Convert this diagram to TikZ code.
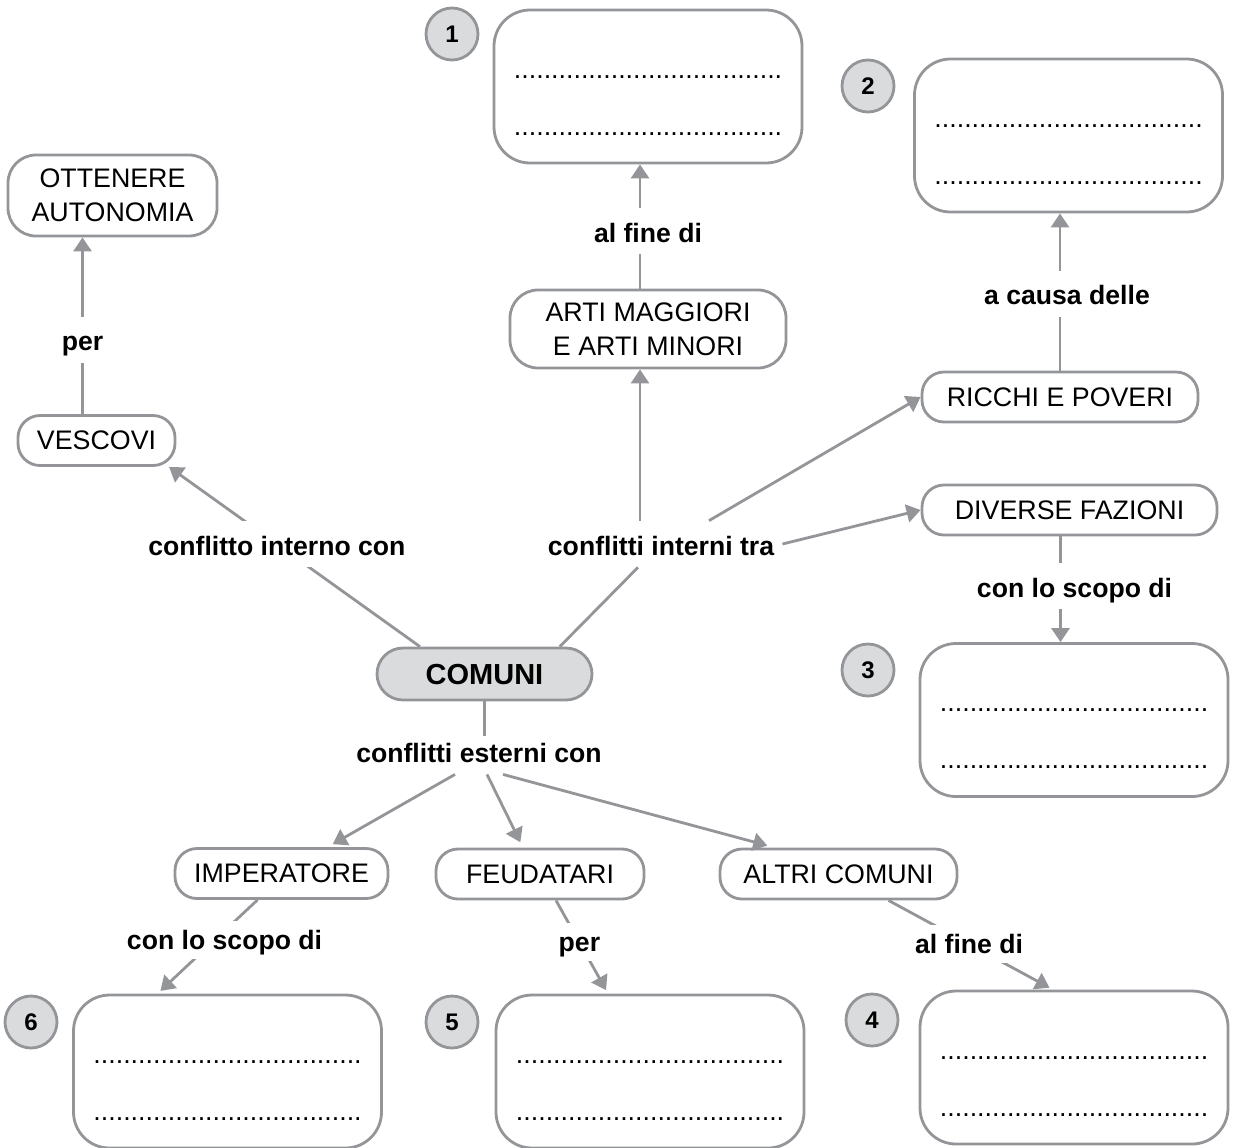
\documentclass[tikz,border=0pt]{standalone}
\usepackage{fontspec}
\setmainfont{Liberation Sans}
\usetikzlibrary{arrows.meta}

\definecolor{grigio}{RGB}{147,149,152}
\definecolor{grigiochiaro}{RGB}{218,219,220}

\tikzstyle{concetto}=[rectangle,
    rounded corners=11pt,
    draw=grigio,
    line width=1.4pt,
    minimum height=25pt,
    inner xsep=6pt,
    align=center,
    font=\fontsize{13.4}{17}\selectfont]
\tikzstyle{risposta}=[rectangle,
    rounded corners=18pt,
    draw=grigio,
    line width=1.4pt,
    minimum width=154pt,
    minimum height=76.5pt,
    align=center,
    font=\fontsize{13.4}{16}\selectfont]
\tikzstyle{numero}=[circle,
    draw=grigio,
    fill=grigiochiaro,
    line width=1.4pt,
    minimum size=26pt,
    inner sep=0pt,
    font=\fontsize{12}{14}\selectfont\bfseries]
\tikzstyle{etichetta}=[fill=white,
    inner xsep=4pt,
    inner ysep=0pt,
    text height=17pt,
    text depth=6pt,
    font=\fontsize{13.3}{16}\selectfont\bfseries]
\tikzstyle{etichettabassa}=[etichetta,
    text height=14pt,
    text depth=5pt]
\tikzstyle{snodo}=[inner xsep=4pt,
    inner ysep=3pt,
    text height=10pt,
    text depth=3pt,
    font=\fontsize{13.3}{16}\selectfont\bfseries]
\tikzstyle{linea}=[draw=grigio, line width=1.4pt]
\tikzstyle{freccia}=[linea, -{Triangle[width=9pt,length=7pt]}]

\newcommand{\puntini}{....................................}
\newcommand{\righe}{\rule{0pt}{20pt}\puntini\\[12.5pt]\puntini}

\begin{document}
\begin{tikzpicture}[x=0.5pt, y=-0.5pt]
    \useasboundingbox (0,0) rectangle (1235,1147);

    % caselle da completare
    \node[risposta] (box1) at (648,86.5) {\righe};
    \node[risposta] (box2) at (1068.5,135.5) {\righe};
    \node[risposta] (box3) at (1074,720) {\righe};
    \node[risposta] (box4) at (1074,1067.5) {\righe};
    \node[risposta] (box5) at (650,1071.5) {\righe};
    \node[risposta] (box6) at (227.5,1071.5) {\righe};
    \node[numero] (n1) at (452,34) {1};
    \node[numero] (n2) at (868,86) {2};
    \node[numero] (n3) at (868,670) {3};
    \node[numero] (n4) at (872,1020) {4};
    \node[numero] (n5) at (452,1022) {5};
    \node[numero] (n6) at (31,1022) {6};

    % concetti
    \node[concetto, fill=grigiochiaro, minimum width=107.5pt, minimum height=26pt,
        rounded corners=13pt, font=\fontsize{14.5}{17}\selectfont\bfseries] (comuni) at (484.5,674) {COMUNI};
    \node[concetto, minimum width=104.5pt, minimum height=40.5pt, rounded corners=14pt] (autonomia) at (112.5,195.5) {OTTENERE\\AUTONOMIA};
    \node[concetto, minimum width=78.5pt] (vescovi) at (96.5,440.5) {VESCOVI};
    \node[concetto, minimum width=138pt, minimum height=39pt, rounded corners=14pt] (arti) at (648,329) {ARTI MAGGIORI\\E ARTI MINORI};
    \node[concetto, minimum width=138pt] (ricchi) at (1060,397) {RICCHI E POVERI};
    \node[concetto, minimum width=147.5pt] (fazioni) at (1069.5,510) {DIVERSE FAZIONI};
    \node[concetto, minimum width=106.5pt] (imperatore) at (281.5,873.5) {IMPERATORE};
    \node[concetto, minimum width=104pt] (feudatari) at (540,874) {FEUDATARI};
    \node[concetto, minimum width=118.5pt] (altri) at (838.5,874) {ALTRI COMUNI};

    % snodi
    \node[etichetta, fill=none] (interni) at (661,544) {conflitti interni tra};
    \node[snodo] (esterni) at (479,755) {conflitti esterni con};

    % conflitti interni
    \draw[freccia] ([xshift=-7pt]vescovi.north) -- node[etichetta, pos=0.42]{per} ([xshift=-15pt]autonomia.south);
    \draw[freccia] (comuni.157) -- node[etichetta, pos=0.57]{conflitto interno con} (vescovi.-20);
    \draw[linea] (comuni.20) -- (interni);
    \coordinate (artix) at ([xshift=-4pt]arti.south);
    \coordinate (artitop) at ([xshift=-4pt]arti.north);
    \draw[freccia] (interni.north -| artix) -- (artix);
    \draw[freccia] ([xshift=24pt]interni.north) -- (ricchi.west);
    \draw[freccia] (interni.east) -- (fazioni.west);
    \draw[freccia] (artitop) -- node[etichetta, pos=0.46, xshift=4pt]{al fine di} (artitop |- box1.south);
    \draw[freccia] (ricchi.north) -- node[etichetta, pos=0.49, xshift=3.5pt]{a causa delle} (ricchi.north |- box2.south);
    \coordinate (fazionix) at ([xshift=-4.5pt]fazioni.south);
    \draw[freccia] (fazionix) -- node[etichetta, pos=0.47, xshift=7pt]{con lo scopo di} (fazionix |- box3.north);

    % conflitti esterni
    \draw[linea] (comuni.south) -- (comuni.south |- esterni.north);
    \draw[freccia, shorten >=3pt] ([xshift=-12pt]esterni.south) -- ([xshift=23pt]imperatore.north);
    \draw[freccia, shorten >=3pt] ([xshift=4pt]esterni.south) -- ([xshift=-8.5pt]feudatari.north);
    \draw[freccia, shorten >=4pt] ([xshift=12pt]esterni.south) -- ([xshift=-31.75pt]altri.north);
    \draw[freccia, shorten >=2pt] ([xshift=-12pt]imperatore.south) -- node[etichettabassa, pos=0.43, xshift=5pt]{con lo scopo di} ([xshift=-35pt]box6.north);
    \draw[freccia, shorten >=2pt] ([xshift=8pt]feudatari.south) -- node[etichettabassa, pos=0.45]{per} ([xshift=-21pt]box5.north);
    \draw[freccia, shorten >=2pt] ([xshift=25pt]altri.south) -- node[etichettabassa, pos=0.49]{al fine di} ([xshift=-10.5pt]box4.north);
\end{tikzpicture}
\end{document}
